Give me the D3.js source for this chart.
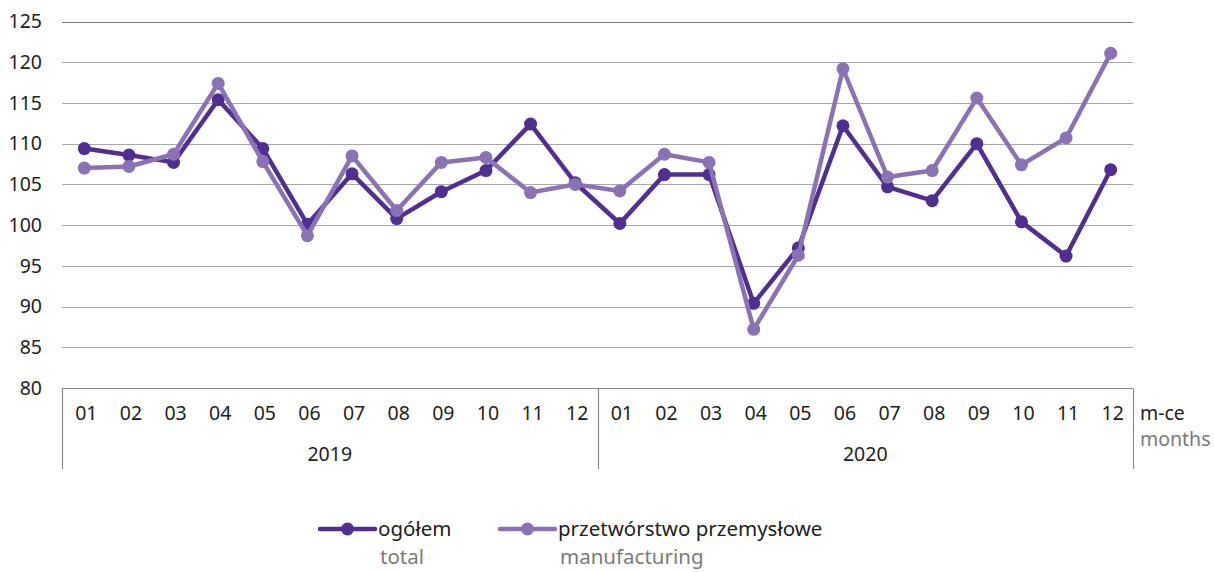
<!DOCTYPE html>
<html>
<head>
<meta charset="utf-8">
<script src="https://cdn.jsdelivr.net/npm/d3@7"></script>
<style>
  body { margin: 0; background: #fff; }
  text { font-family: "Noto Sans", sans-serif; }
</style>
</head>
<body>
<div id="vis-container"></div>
<script>
// monthly indices, 2019-2020
const years = ["2019", "2020"];
const months = ["01", "02", "03", "04", "05", "06", "07", "08", "09", "10", "11", "12"];
const yTicks = [80, 85, 90, 95, 100, 105, 110, 115, 120, 125];

const total = [109.4, 108.6, 107.7, 115.4, 109.4, 100.1, 106.3, 100.8, 104.1, 106.7, 112.4, 105.2,
               100.2, 106.2, 106.2, 90.4, 97.2, 112.2, 104.7, 103.0, 110.0, 100.4, 96.2, 106.8];
const manufacturing = [107.0, 107.2, 108.7, 117.4, 107.8, 98.7, 108.5, 101.8, 107.7, 108.3, 104.0, 105.0,
                       104.2, 108.7, 107.7, 87.2, 96.3, 119.2, 105.9, 106.7, 115.6, 107.4, 110.7, 121.1];

const seriesNames = [["ogółem", "total"], ["przetwórstwo przemysłowe", "manufacturing"]];
const colors = ["#512e92", "#8a72b5"];

let width = 1214;
let height = 572;

let svg = d3.select("#vis-container")
  .append("svg")
  .attr("width", width)
  .attr("height", height);

// one slot per month across both years
let slots = [];
years.forEach(y => months.forEach(m => slots.push(y + "-" + m)));

let x = d3.scaleBand().domain(slots).range([62, 1133]).padding(0);
let y = d3.scaleLinear().domain([80, 125]).range([388, 21.5]);

// gridlines
svg.append("g").selectAll("line")
  .data(yTicks.filter(d => d > 80))
  .enter()
  .append("line")
  .attr("x1", 62).attr("x2", 1133)
  .attr("y1", d => Math.round(y(d)) + 0.5)
  .attr("y2", d => Math.round(y(d)) + 0.5)
  .attr("stroke", d => d === 125 ? "#7a7a7a" : "#a8a8a8")
  .attr("stroke-width", 1.2);

// y labels
svg.append("g").selectAll("text")
  .data(yTicks)
  .enter()
  .append("text")
  .attr("x", 42)
  .attr("y", d => y(d))
  .attr("dy", "0.35em")
  .attr("text-anchor", "end")
  .attr("font-size", 19.5)
  .attr("fill", "#222")
  .text(d => d);

// category axis frame
let axisY = Math.round(y(80)) + 0.5;
svg.append("line")
  .attr("x1", 62).attr("x2", 1133)
  .attr("y1", axisY).attr("y2", axisY)
  .attr("stroke", "#8c8c8c").attr("stroke-width", 1.2);

let seps = [x(slots[0]), x(slots[12]), x(slots[23]) + x.bandwidth()];
svg.append("g").selectAll("line")
  .data(seps)
  .enter()
  .append("line")
  .attr("x1", d => Math.round(d) + 0.5)
  .attr("x2", d => Math.round(d) + 0.5)
  .attr("y1", axisY).attr("y2", 469)
  .attr("stroke", "#8c8c8c").attr("stroke-width", 1.2);

// month labels
svg.append("g").selectAll("text")
  .data(slots)
  .enter()
  .append("text")
  .attr("x", d => x(d) + x.bandwidth() / 2 + 2)
  .attr("y", 413)
  .attr("dy", "0.35em")
  .attr("text-anchor", "middle")
  .attr("font-size", 19.5)
  .attr("fill", "#222")
  .text(d => d.slice(5));

// year labels
svg.append("g").selectAll("text")
  .data(years)
  .enter()
  .append("text")
  .attr("x", (d, i) => (seps[i] + seps[i + 1]) / 2)
  .attr("y", 454)
  .attr("dy", "0.35em")
  .attr("text-anchor", "middle")
  .attr("font-size", 19.5)
  .attr("fill", "#222")
  .text(d => d);

svg.append("text")
  .attr("x", 1140).attr("y", 413).attr("dy", "0.35em")
  .attr("font-size", 19.5).attr("fill", "#222")
  .text("m-ce");
svg.append("text")
  .attr("x", 1140).attr("y", 439).attr("dy", "0.35em")
  .attr("font-size", 19.5).attr("fill", "#7a7a7a")
  .text("months");

// lines and markers
let line = d3.line()
  .x((d, i) => x(slots[i]) + x.bandwidth() / 2)
  .y(d => y(d));

[total, manufacturing].forEach(function (vals, k) {
  let g = svg.append("g");
  g.append("path")
    .datum(vals)
    .attr("d", line)
    .attr("fill", "none")
    .attr("stroke", colors[k])
    .attr("stroke-width", 4.5)
    .attr("stroke-linejoin", "round");
  g.selectAll("circle")
    .data(vals)
    .enter()
    .append("circle")
    .attr("cx", (d, i) => x(slots[i]) + x.bandwidth() / 2)
    .attr("cy", d => y(d))
    .attr("r", 6.5)
    .attr("fill", colors[k]);
});

// legend
let legendX = [320, 500];
seriesNames.forEach(function (names, k) {
  let lg = svg.append("g").attr("transform", "translate(" + legendX[k] + ",529)");
  lg.append("line")
    .attr("x1", 0).attr("x2", 55)
    .attr("stroke", colors[k]).attr("stroke-width", 4.5)
    .attr("stroke-linecap", "round");
  lg.append("circle")
    .attr("cx", 27.5).attr("r", 6.5)
    .attr("fill", colors[k]);
  lg.append("text")
    .attr("x", 58).attr("dy", "0.35em")
    .attr("font-size", 20.5).attr("fill", "#222")
    .text(names[0]);
  lg.append("text")
    .attr("x", 60).attr("y", 28).attr("dy", "0.35em")
    .attr("font-size", 20.5).attr("fill", "#7a7a7a")
    .text(names[1]);
});
</script>
</body>
</html>
